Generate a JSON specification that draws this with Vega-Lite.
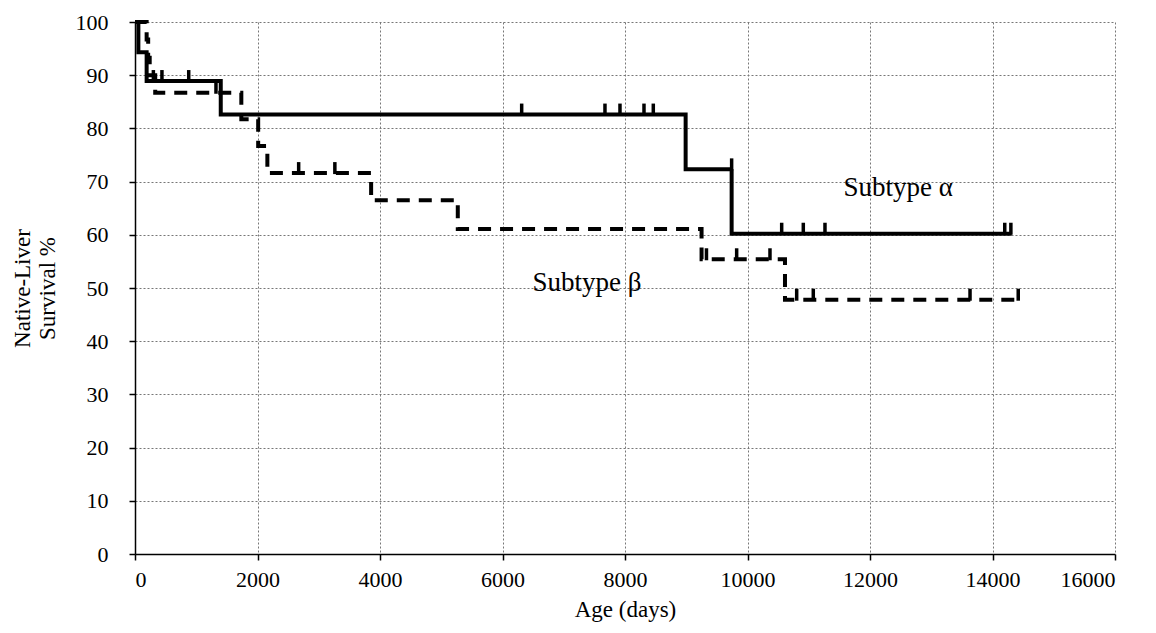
{
  "$schema": "https://vega.github.io/schema/vega-lite/v6.json",
  "autosize": "none",
  "width": 980,
  "height": 532,
  "padding": {"left": 135, "top": 22, "right": 41, "bottom": 79},
  "background": "white",
  "config": {
    "font": "Liberation Serif",
    "view": {"stroke": null}
  },
  "datasets": {
    "curves": [
      {"subtype": "α", "day": 0, "surv": 100},
      {"subtype": "α", "day": 55, "surv": 94.3},
      {"subtype": "α", "day": 190, "surv": 88.9},
      {"subtype": "α", "day": 1400, "surv": 82.6},
      {"subtype": "α", "day": 8990, "surv": 72.3},
      {"subtype": "α", "day": 9741, "surv": 60.2},
      {"subtype": "α", "day": 14313, "surv": 60.2},
      {"subtype": "β", "day": 0, "surv": 100},
      {"subtype": "β", "day": 190, "surv": 96.7},
      {"subtype": "β", "day": 215, "surv": 93.3},
      {"subtype": "β", "day": 240, "surv": 90},
      {"subtype": "β", "day": 330, "surv": 86.7},
      {"subtype": "β", "day": 1736, "surv": 81.7},
      {"subtype": "β", "day": 2011, "surv": 76.7},
      {"subtype": "β", "day": 2161, "surv": 71.6},
      {"subtype": "β", "day": 3855, "surv": 66.5},
      {"subtype": "β", "day": 5270, "surv": 61.1},
      {"subtype": "β", "day": 9250, "surv": 55.4},
      {"subtype": "β", "day": 10612, "surv": 47.8},
      {"subtype": "β", "day": 14450, "surv": 47.8}
    ],
    "censor": [
      {"subtype": "α", "day": 300, "surv": 88.9},
      {"subtype": "α", "day": 440, "surv": 88.9},
      {"subtype": "α", "day": 877, "surv": 88.9},
      {"subtype": "α", "day": 6313, "surv": 82.6},
      {"subtype": "α", "day": 7673, "surv": 82.6},
      {"subtype": "α", "day": 7918, "surv": 82.6},
      {"subtype": "α", "day": 8310, "surv": 82.6},
      {"subtype": "α", "day": 8462, "surv": 82.6},
      {"subtype": "α", "day": 9741, "surv": 72.3},
      {"subtype": "α", "day": 10558, "surv": 60.2},
      {"subtype": "α", "day": 10911, "surv": 60.2},
      {"subtype": "α", "day": 11265, "surv": 60.2},
      {"subtype": "α", "day": 14200, "surv": 60.2},
      {"subtype": "α", "day": 14300, "surv": 60.2},
      {"subtype": "β", "day": 1322, "surv": 86.7},
      {"subtype": "β", "day": 2672, "surv": 71.6},
      {"subtype": "β", "day": 3263, "surv": 71.6},
      {"subtype": "β", "day": 9330, "surv": 55.4},
      {"subtype": "β", "day": 9823, "surv": 55.4},
      {"subtype": "β", "day": 10367, "surv": 55.4},
      {"subtype": "β", "day": 10803, "surv": 47.8},
      {"subtype": "β", "day": 11074, "surv": 47.8},
      {"subtype": "β", "day": 13633, "surv": 47.8},
      {"subtype": "β", "day": 14420, "surv": 47.8}
    ],
    "labels": [
      {"day": 12460, "surv": 68.8, "text": "Subtype  α"},
      {"day": 7380, "surv": 50.9, "text": "Subtype  β"}
    ]
  },
  "layer": [
    {
      "data": {"name": "curves"},
      "mark": {"type": "line", "interpolate": "step-after", "strokeWidth": 4, "strokeCap": "butt", "color": "#000"},
      "encoding": {
        "x": {
          "field": "day", "type": "quantitative",
          "scale": {"domain": [0, 16000], "nice": false},
          "axis": {
            "title": "Age (days)", "format": "d",
            "values": [0, 2000, 4000, 6000, 8000, 10000, 12000, 14000, 16000],
            "labelFont": "Liberation Serif", "labelFontSize": 22, "labelColor": "#000", "labelPadding": 9,
            "titleFont": "Liberation Serif", "titleFontSize": 23, "titleFontWeight": "normal", "titleColor": "#000", "titlePadding": 8,
            "domainColor": "#000", "domainWidth": 1.5, "tickColor": "#000", "tickWidth": 1.5, "tickSize": 6,
            "grid": true, "gridColor": "#777", "gridDash": [2, 2], "gridWidth": 1
          }
        },
        "y": {
          "field": "surv", "type": "quantitative",
          "scale": {"domain": [0, 100], "nice": false},
          "axis": {
            "title": ["Native-Liver", "Survival %"],
            "values": [0, 10, 20, 30, 40, 50, 60, 70, 80, 90, 100],
            "labelFont": "Liberation Serif", "labelFontSize": 22, "labelColor": "#000", "labelPadding": 21,
            "titleFont": "Liberation Serif", "titleFontSize": 23, "titleFontWeight": "normal", "titleColor": "#000", "titlePadding": 16, "titleLineHeight": 25,
            "domainColor": "#000", "domainWidth": 1.5, "tickColor": "#000", "tickWidth": 1.5, "tickSize": 6,
            "grid": true, "gridColor": "#777", "gridDash": [2, 2], "gridWidth": 1
          }
        },
        "detail": {"field": "subtype"},
        "strokeDash": {
          "field": "subtype", "type": "nominal",
          "scale": {"domain": ["α", "β"], "range": [[1, 0], [13, 9]]},
          "legend": null
        }
      }
    },
    {
      "data": {"name": "censor"},
      "mark": {"type": "tick", "orient": "vertical", "size": 12, "thickness": 3.5, "yOffset": -5, "color": "#000", "opacity": 1},
      "encoding": {
        "x": {"field": "day", "type": "quantitative"},
        "y": {"field": "surv", "type": "quantitative"}
      }
    },
    {
      "data": {"name": "labels"},
      "mark": {"type": "text", "font": "Liberation Serif", "fontSize": 27, "color": "#000", "align": "center", "baseline": "middle"},
      "encoding": {
        "x": {"field": "day", "type": "quantitative"},
        "y": {"field": "surv", "type": "quantitative"},
        "text": {"field": "text"}
      }
    }
  ]
}
